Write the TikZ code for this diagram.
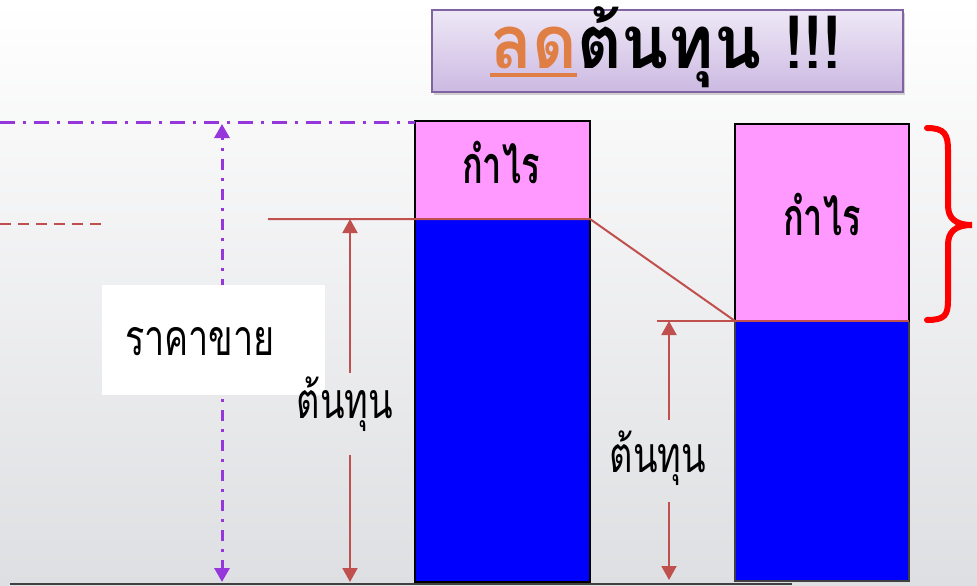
\documentclass[tikz,border=0pt]{standalone}
\usepackage{fontspec}
\newfontfamily\thai[Script=Thai,FakeStretch=0.72]{Loma}
\newfontfamily\thaiprofit[Script=Thai,FakeStretch=0.66]{Loma}
\newfontfamily\thaititle[Script=Thai,FakeStretch=0.93]{Loma}
\usetikzlibrary{arrows.meta,shadows}
\definecolor{costred}{RGB}{192,80,77}
\definecolor{vpurple}{RGB}{150,55,220}
\definecolor{pinkbar}{RGB}{255,153,255}
\definecolor{bluebar}{RGB}{0,0,255}
\definecolor{titleorange}{RGB}{224,127,69}
\definecolor{titleborder}{RGB}{128,100,162}
\newcommand\thickul[1]{\setbox0\hbox{#1}\rlap{\rule[-9pt]{\wd0}{4pt}}\box0}
\tikzset{
  redline/.style={draw=costred,line width=2pt},
  redarrow/.style={draw=costred,line width=2pt,-{Triangle[width=15pt,length=14pt]}},
  purplearrow/.style={draw=vpurple,line width=3pt,dash pattern=on 11pt off 8pt on 3pt off 8pt,-{Triangle[width=15pt,length=14pt]}},
  bigtxt/.style={font=\thai\fontsize{50}{56}\selectfont,inner sep=0pt,anchor=base},
  profit/.style={font=\thaiprofit\bfseries\fontsize{52}{58}\selectfont,inner sep=0pt,anchor=base},
}
\begin{document}
\begin{tikzpicture}[x=1pt,y=-1pt]
\useasboundingbox (0,0) rectangle (977,586);
\shade[top color=white,bottom color={rgb,255:red,222;green,223;blue,226}] (0,0) rectangle (977,586);
% bars
\path[fill=pinkbar] (415,121) rectangle (590,219);
\path[fill=bluebar] (415,219) rectangle (590,582);
\draw[line width=2.5pt,black] (415,121) rectangle (590,582);
\path[fill=pinkbar] (735,124) rectangle (909,321);
\path[fill=bluebar] (735,321) rectangle (909,581);
\draw[line width=2.5pt,black!75] (735,124) rectangle (909,581);
\draw[line width=2.5pt,black] (735,124) rectangle (909,321);
% bottom line
\coordinate (b1) at (10,584);
\coordinate (b2) at (792,584);
\draw[black!75,line width=1.5pt] (b1) -- (b2);
% purple dash-dot
\coordinate (p1) at (0,122);
\coordinate (p2) at (415,122);
\draw[vpurple,line width=3pt,dash pattern=on 15pt off 8pt on 3pt off 8pt] (p1) -- (p2);
\coordinate (pv1) at (222,124);
\coordinate (pv2) at (222,582);
\coordinate (pvm) at (222,350);
\draw[purplearrow] (pvm) -- (pv1);
\draw[purplearrow] (pvm) -- (pv2);
% red dashed
\coordinate (d1) at (0,224);
\coordinate (d2) at (108,224);
\draw[costred,line width=2pt,dash pattern=on 11pt off 7pt] (d1) -- (d2);
% red lines
\coordinate (r1) at (268,219);
\coordinate (r2) at (590,219);
\coordinate (r3) at (735,321);
\coordinate (r4) at (657,321);
\coordinate (r5) at (909,321);
\draw[redline] (r1) -- (r2) -- (r3);
\draw[redline] (r4) -- (r5);
% labels
\node[fill=white,minimum width=223pt,minimum height=110pt,inner sep=0pt] (pricebox) at (213.5,340) {};
\node[bigtxt] (price) at (200,355) {ราคาขาย};
\node[bigtxt] (costL) at (345,418) {ต้นทุน};
\node[bigtxt] (costR) at (658,472) {ต้นทุน};
\node[profit] (profL) at (501,183) {กำไร};
\node[profit] (profR) at (822,235) {กำไร};
% red arrows
\coordinate (la0) at (350,373);
\coordinate (la1) at (350,219);
\coordinate (lb0) at (350,455);
\coordinate (lb1) at (350,582);
\draw[redarrow] (la0) -- (la1);
\draw[redarrow] (lb0) -- (lb1);
\coordinate (ra0) at (669,420);
\coordinate (ra1) at (669,321);
\coordinate (rb0) at (669,502);
\coordinate (rb1) at (669,580);
\draw[redarrow] (ra0) -- (ra1);
\draw[redarrow] (rb0) -- (rb1);
% brace
\draw[red,line width=6pt,line cap=round] (927,128) .. controls (945,128) and (948,135) .. (948,150) -- (948,205) .. controls (948,218) and (955,225) .. (972,225) .. controls (955,225) and (948,232) .. (948,245) -- (948,300) .. controls (948,315) and (945,320) .. (927,320);
% title
\node[draw=titleborder,line width=1.5pt,top color={rgb,255:red,238;green,232;blue,246},bottom color={rgb,255:red,204;green,185;blue,226},minimum width=471pt,minimum height=82pt,inner sep=0pt,drop shadow={opacity=0.35,shadow xshift=2pt,shadow yshift=-3pt}] (titlebox) at (667.5,51) {};
\node[font=\thaititle\bfseries\fontsize{74}{80}\selectfont,inner sep=0pt,anchor=base] (title) at (666,68) {\textcolor{titleorange}{\thickul{ลด}}ต้นทุน !!!};
\end{tikzpicture}
\end{document}
